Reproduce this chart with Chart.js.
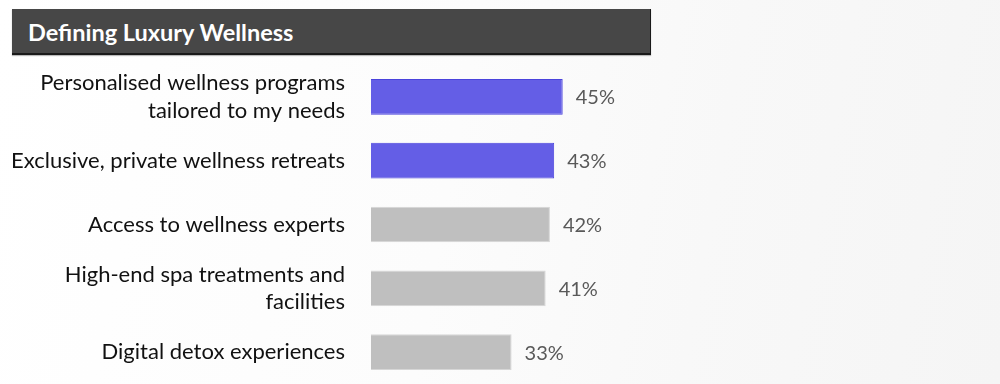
<!DOCTYPE html>
<html>
<head>
<meta charset="utf-8">
<script src="https://cdn.jsdelivr.net/npm/chart.js@4.4.1/dist/chart.umd.min.js"></script>
<style>
  html, body { margin: 0; padding: 0; }
  body {
    width: 1000px; height: 384px; overflow: hidden; position: relative;
    background: linear-gradient(100deg, #ffffff 0%, #fcfcfc 45%, #f8f8f8 70%, #f5f5f5 100%);
    font-family: Lato, "Open Sans", sans-serif;
  }
  #title {
    position: absolute; left: 12px; top: 9px; width: 639px; height: 46px;
    background: #474747; color: #fff; font-weight: bold; font-size: 23.5px;
    line-height: 46px; padding-left: 16px; box-sizing: border-box;
    border-bottom: 2px solid #1a1a1a; border-right: 1px solid #1a1a1a;
    box-shadow: 0 1px 1px #bbb;
  }
  #myChart { position: absolute; left: 0; top: 0; }
</style>
</head>
<body>
<div id="title">Defining Luxury Wellness</div>
<canvas id="myChart" width="1000" height="384"></canvas>
<script>
const categories = [
    ["Personalised wellness programs", "tailored to my needs"],
    "Exclusive, private wellness retreats",
    "Access to wellness experts",
    ["High-end spa treatments and", "facilities"],
    "Digital detox experiences"
];
const values = [45, 43, 42, 41, 33];
const barColors = ['#645ee6', '#645ee6', '#bfbfbf', '#bfbfbf', '#bfbfbf'];
const borderColors = ['#4a43dc', '#4a43dc', '#d6d6d6', '#d6d6d6', '#d6d6d6'];

// percentage labels next to each bar
const valueLabels = {
    id: 'valueLabels',
    afterDatasetsDraw(chart) {
        const c = chart.ctx;
        c.save();
        c.font = 'normal 20px "Lato", sans-serif';
        c.fillStyle = '#595959';
        c.textBaseline = 'middle';
        chart.getDatasetMeta(0).data.forEach((bar, i) => {
            c.fillText(values[i] + '%', bar.x + 13, bar.y + 1);
        });
        c.restore();
    }
};

const ctx = document.getElementById('myChart').getContext('2d');
const myChart = new Chart(ctx, {
    type: 'bar',
    data: {
        labels: categories,
        datasets: [{
            data: values,
            backgroundColor: barColors,
            borderColor: borderColors,
            borderWidth: 1,
            barPercentage: 0.56,
            categoryPercentage: 1
        }]
    },
    options: {
        indexAxis: 'y',
        responsive: false,
        animation: false,
        layout: { padding: { top: 65, right: 203, bottom: 0, left: 0 } },
        plugins: {
            legend: { display: false },
            tooltip: { enabled: false }
        },
        scales: {
            x: { display: false, min: 0, max: 100 },
            y: {
                afterFit(scale) {
                    scale.width = 371;
                    scale.paddingTop = 0;
                    scale.paddingBottom = 0;
                },
                grid: { display: false, drawTicks: false },
                border: { display: false },
                ticks: {
                    padding: 26,
                    color: '#111111',
                    font: { family: 'Lato', size: 22, lineHeight: 1.23 }
                }
            }
        }
    },
    plugins: [valueLabels]
});
</script>
</body>
</html>
